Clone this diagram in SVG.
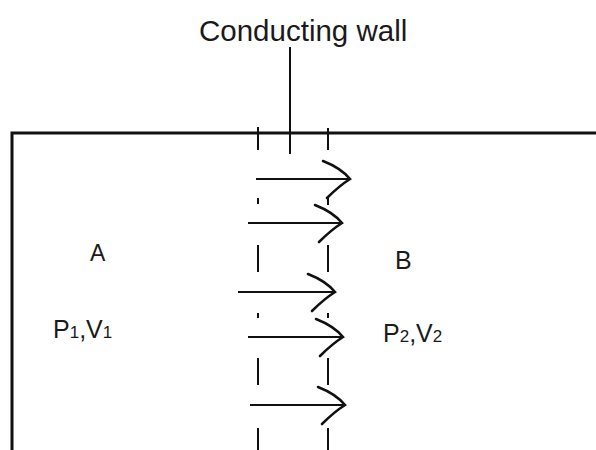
<svg xmlns="http://www.w3.org/2000/svg" xmlns:xlink="http://www.w3.org/1999/xlink" width="596" height="450" viewBox="0 0 596 450">
<style>
  text { font-family: "Liberation Sans", Arial, sans-serif; fill: #1a1a1a; }
  .wall { stroke: #111; stroke-width: 3; fill: none; }
  .dash { stroke: #111; stroke-width: 2; fill: none; }
  .shaft { stroke: #111; stroke-width: 2; fill: none; }
  .head { stroke: #111; stroke-width: 2.6; fill: none; stroke-linecap: round; }
</style>
<defs>
  <path id="ah" class="head" d="M-27,-18 Q-9,-11 0,0 Q-11,7 -23,19"/>
</defs>
<rect width="596" height="450" fill="#fff"/>
<g id="container">
  <path class="wall" d="M12,450 L12,133 L596,133"/>
</g>
<g id="label-wall">
  <text x="199" y="41" font-size="29.5">Conducting wall</text>
  <line x1="290" y1="47" x2="290" y2="154" stroke="#111" stroke-width="2"/>
</g>
<g id="wall-lines">
  <path class="dash" d="M258,127 V150 M258,198 V204 M258,245 V272 M258,313 V318 M258,358 V385 M258,428 V450"/>
  <path class="dash" d="M328,128 V150 M328,198 V205 M328,245 V272 M328,313 V318 M328,358 V385 M328,428 V450"/>
</g>
<g id="node-A">
  <text x="90" y="261" font-size="23">A</text>
  <text x="53" y="338" font-size="25">P<tspan font-size="17">1</tspan>,V<tspan font-size="17">1</tspan></text>
</g>
<g id="node-B">
  <text x="395" y="269" font-size="25">B</text>
  <text x="383" y="342" font-size="25">P<tspan font-size="17">2</tspan>,V<tspan font-size="17">2</tspan></text>
</g>
<g id="connectors">
  <line class="shaft" x1="256" y1="179" x2="348" y2="179"/>
  <use xlink:href="#ah" href="#ah" transform="translate(350,179)"/>
  <line class="shaft" x1="248" y1="223" x2="340" y2="223"/>
  <use xlink:href="#ah" href="#ah" transform="translate(342,223)"/>
  <line class="shaft" x1="238" y1="292" x2="333" y2="292"/>
  <use xlink:href="#ah" href="#ah" transform="translate(335,292)"/>
  <line class="shaft" x1="248" y1="337" x2="341" y2="337"/>
  <use xlink:href="#ah" href="#ah" transform="translate(343,337)"/>
  <line class="shaft" x1="250" y1="405" x2="343" y2="405"/>
  <use xlink:href="#ah" href="#ah" transform="translate(345,405)"/>
</g>
</svg>
